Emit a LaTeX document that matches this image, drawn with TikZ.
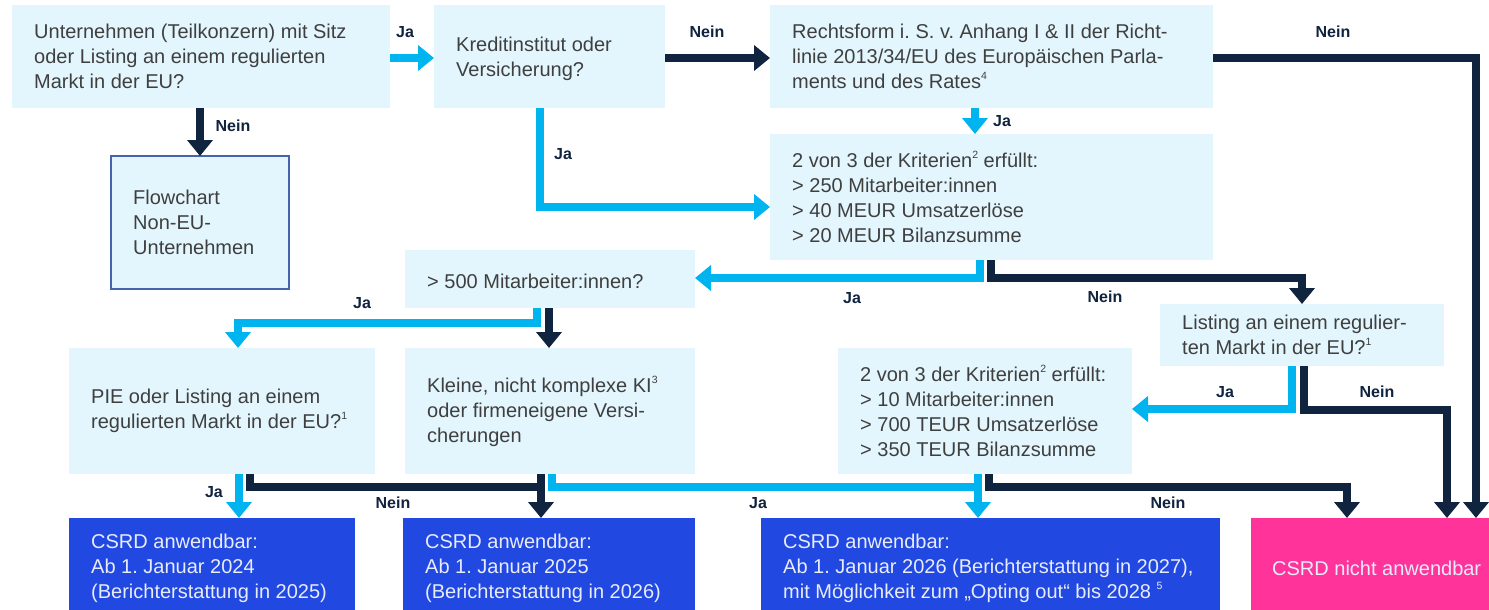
\documentclass[tikz,border=0pt]{standalone}
\usepackage{fontspec}
\setmainfont{Liberation Sans}
\usetikzlibrary{arrows.meta,calc}
\frenchspacing

\definecolor{boxfill}{HTML}{E3F6FD}
\definecolor{cyanline}{HTML}{00B4EF}
\definecolor{navy}{HTML}{10233F}
\definecolor{dborder}{HTML}{4563AE}
\definecolor{kblue}{HTML}{2148E0}
\definecolor{kpink}{HTML}{FF3399}
\definecolor{txtgrey}{HTML}{3F3F3F}
\definecolor{ktext}{HTML}{E8ECFB}

% small raised footnote numbers
\newcommand\supx[1]{\raisebox{0.45em}{\fontsize{10.5}{10.5}\selectfont #1}}

\tikzset{
  qbox/.style={fill=boxfill, anchor=north west, inner sep=0pt, outer sep=0pt},
  rbox/.style={qbox, fill=kblue},
  pbox/.style={qbox, fill=kpink},
  txt/.style={anchor=west, align=left, inner sep=0pt, text=txtgrey,
              font=\fontsize{20}{25}\selectfont},
  wtxt/.style={txt, text=ktext},
  lab/.style={inner sep=0pt, text=navy, font=\fontsize{16}{16}\selectfont\bfseries},
  jaline/.style={draw=cyanline, line width=8.5pt,
                 -{Triangle[width=25pt,length=16pt]}},
  neinline/.style={jaline, draw=navy},
  japlain/.style={draw=cyanline, line width=8.5pt},
  neinplain/.style={draw=navy, line width=8.5pt},
}

\begin{document}
\begin{tikzpicture}[x=1pt,y=-1pt]
\useasboundingbox (0,0) rectangle (1489,610);
\clip (0,0) rectangle (1489,610);
\fill[white] (0,0) rectangle (1489,610);

% ---------- question boxes ----------
\node[qbox, minimum width=378pt, minimum height=103pt] (A) at (12,5) {};
\node[txt] (At) at ([xshift=22pt]A.west)
  {Unternehmen (Teilkonzern) mit Sitz\\oder Listing an einem regulierten\\Markt in der EU?};

\node[qbox, minimum width=231pt, minimum height=103pt] (B) at (434,5) {};
\node[txt] (Bt) at ([xshift=22pt,yshift=-2pt]B.west)
  {Kreditinstitut oder\\Versicherung?};

\node[qbox, minimum width=443pt, minimum height=103pt] (C) at (770,5) {};
\node[txt] (Ct) at ([xshift=22pt]C.west)
  {Rechtsform i. S. v. Anhang I \& II der Richt-\\linie 2013/34/EU des Europäischen Parla-\\ments und des Rates\supx{4}};

\node[qbox, draw=dborder, line width=1.5pt, minimum width=178pt, minimum height=133pt] (D) at (111,156) {};
\node[txt] (Dt) at ([xshift=22pt]D.west)
  {Flowchart\\Non-EU-\\Unternehmen};

\node[qbox, minimum width=443pt, minimum height=126pt] (E) at (770,134) {};
\node[txt] (Et) at ([xshift=22pt]E.west)
  {2 von 3 der Kriterien\supx{2} erfüllt:\\> 250 Mitarbeiter:innen\\> 40 MEUR Umsatzerlöse\\> 20 MEUR Bilanzsumme};

\node[qbox, minimum width=290pt, minimum height=58pt] (F) at (405,250) {};
\node[txt] (Ft) at ([xshift=22pt,yshift=-2pt]F.west)
  {> 500 Mitarbeiter:innen?};

\node[qbox, minimum width=284pt, minimum height=62pt] (G) at (1160,304) {};
\node[txt] (Gt) at ([xshift=22pt]G.west)
  {Listing an einem regulier-\\ten Markt in der EU?\supx{1}};

\node[qbox, minimum width=306pt, minimum height=126pt] (H) at (69,348) {};
\node[txt] (Ht) at ([xshift=22pt]H.west)
  {PIE oder Listing an einem\\regulierten Markt in der EU?\supx{1}};

\node[qbox, minimum width=290pt, minimum height=126pt] (I) at (405,348) {};
\node[txt] (It) at ([xshift=22pt]I.west)
  {Kleine, nicht komplexe KI\supx{3}\\oder firmeneigene Versi-\\cherungen};

\node[qbox, minimum width=294pt, minimum height=126pt] (J) at (838,348) {};
\node[txt] (Jt) at ([xshift=22pt]J.west)
  {2 von 3 der Kriterien\supx{2} erfüllt:\\> 10 Mitarbeiter:innen\\> 700 TEUR Umsatzerlöse\\> 350 TEUR Bilanzsumme};

% ---------- result boxes ----------
\node[rbox, minimum width=286pt, minimum height=100pt] (K1) at (69,518) {};
\node[wtxt] (K1t) at ([xshift=22pt]K1.west)
  {CSRD anwendbar:\\Ab 1. Januar 2024\\(Berichterstattung in 2025)};

\node[rbox, minimum width=292pt, minimum height=100pt] (K2) at (403,518) {};
\node[wtxt] (K2t) at ([xshift=22pt]K2.west)
  {CSRD anwendbar:\\Ab 1. Januar 2025\\(Berichterstattung in 2026)};

\node[rbox, minimum width=459pt, minimum height=100pt] (K3) at (761,518) {};
\node[wtxt] (K3t) at ([xshift=22pt]K3.west)
  {CSRD anwendbar:\\Ab 1. Januar 2026 (Berichterstattung in 2027),\\mit Möglichkeit zum „Opting out“ bis 2028 \supx{5}};

\node[pbox, minimum width=260pt, minimum height=100pt] (K4) at (1251,518) {};
\node[wtxt] (K4t) at ([xshift=21pt]K4.west) {CSRD nicht anwendbar};

% ---------- connectors ----------
\draw[jaline]   (A.east |- 0,58) -- (B.west |- 0,58);
\draw[neinline] (B.east |- 0,58) -- (C.west |- 0,58);
\draw[neinline] (C.east |- 0,58) -| (K4.north -| 1476,0);
\draw[neinline] (A.south -| D.north) -- (D.north);
\draw[jaline]   (C.south -| 975,0) -- (E.north -| 975,0);
\draw[jaline]   (B.south -| 540,0) |- (E.west |- 0,207);

\draw[jaline]   (E.south -| 980,0) |- (F.east |- 0,278);
\draw[neinline] (E.south -| 991,0) |- (1302,278) -- (G.north -| 1302,0);

\draw[jaline]   (F.south -| 537,0) |- (238,323) -- (H.north -| 238,0);
\draw[neinline] (F.south -| 549,0) -- (I.north -| 549,0);

\draw[jaline]   (G.south -| 1292,0) |- (J.east |- 0,409);
\draw[neinline] (G.south -| 1304,0) |- (1447,410) -- (K4.north -| 1447,0);

\draw[jaline]   (H.south -| 239,0) -- (K1.north -| 239,0);
\draw[neinplain] (H.south -| 250,0) |- (541,487);
\draw[neinline] (I.south -| 541,0) -- (K2.north -| 541,0);

\draw[japlain]  (I.south -| 552,0) |- (978,487);
\draw[jaline]   (J.south -| 978,0) -- (K3.north -| 978,0);
\draw[neinline] (J.south -| 989,0) |- (1347,487) -- (K4.north -| 1347,0);

% ---------- branch labels ----------
\node[lab] (l1)  at (405,32)   {Ja};
\node[lab] (l2)  at (707,32)   {Nein};
\node[lab] (l3)  at (1333,32)  {Nein};
\node[lab] (l4)  at (233,126)  {Nein};
\node[lab] (l5)  at (1002,121) {Ja};
\node[lab] (l6)  at (563,154)  {Ja};
\node[lab] (l7)  at (852,298)  {Ja};
\node[lab] (l8)  at (1105,297) {Nein};
\node[lab] (l9)  at (362,303)  {Ja};
\node[lab] (l10) at (1225,392) {Ja};
\node[lab] (l11) at (1377,392) {Nein};
\node[lab] (l12) at (214,492)  {Ja};
\node[lab] (l13) at (393,503)  {Nein};
\node[lab] (l14) at (758,503)  {Ja};
\node[lab] (l15) at (1168,503) {Nein};
\end{tikzpicture}
\end{document}
